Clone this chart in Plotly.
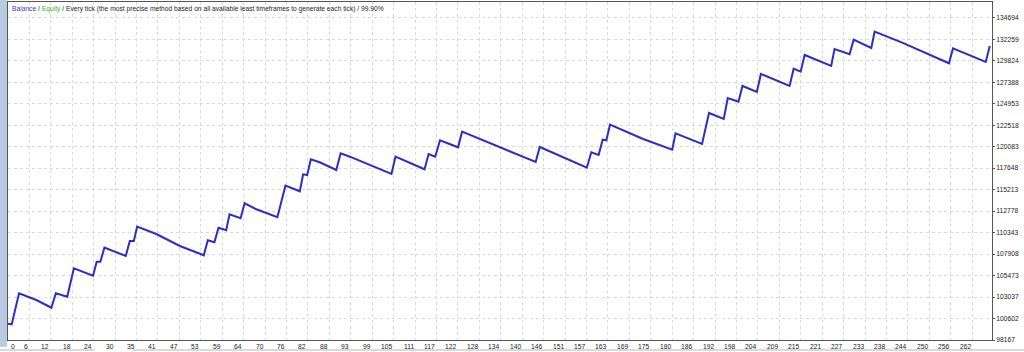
import plotly.graph_objects as go

# ---- data ----
trade_no = [0, 1.0, 3.0, 7.7, 11.8, 13.0, 16.1, 17.9, 23.1, 24.1, 25.1, 26.2, 32.0, 33.1, 34.2,
            35.1, 40.3, 46.7, 53.2, 54.3, 56.1, 57.2, 59.3, 60.2, 63.2, 64.3, 67.5, 73.2, 75.4,
            79.3, 80.2, 81.3, 82.3, 84.7, 89.2, 90.4, 92.9, 104.2, 105.3, 113.2, 114.3, 116.1,
            117.4, 122.3, 123.4, 133.6, 139.0, 143.4, 144.5, 151.7, 157.3, 158.5, 160.5, 161.6,
            162.6, 163.6, 172.6, 180.5, 181.4, 188.6, 190.5, 194.5, 195.6, 198.5, 199.6, 203.5,
            204.6, 212.4, 213.5, 215.4, 216.5, 223.7, 224.6, 228.7, 229.8, 234.6, 235.5, 243.0,
            255.7, 256.8, 265.7, 266.8]
balance = [100000, 99940, 103461, 102701, 101828, 103461, 103076, 106295, 105456, 107043, 107043,
           108630, 107689, 109390, 109390, 111011, 110183, 108823, 107769, 109469, 109242, 110897,
           110603, 112416, 111963, 113664, 112983, 112076, 115658, 115024, 116951, 116871, 118651,
           118311, 117438, 119331, 118946, 116985, 118946, 117518, 119252, 118946, 120805, 120011,
           121780, 120011, 119025, 118345, 120045, 118719, 117699, 119445, 119139, 120873, 120805,
           122574, 120952, 119740, 121598, 120386, 123900, 123220, 125600, 125181, 126960, 126280,
           128321, 126960, 128922, 128582, 130475, 129228, 131155, 130554, 132209, 131268, 133116,
           131869, 129534, 131234, 129681, 131495]

x_tick_labels = ["0", "6", "12", "18", "24", "30", "35", "41", "47", "53", "59", "64", "70", "76",
                 "82", "88", "93", "99", "105", "111", "117", "122", "128", "134", "140", "146",
                 "151", "157", "163", "169", "175", "180", "186", "192", "198", "204", "209", "215",
                 "221", "227", "233", "238", "244", "250", "256", "262"]
y_tick_labels = [98167, 100602, 103037, 105473, 107908, 110343, 112778, 115213, 117648, 120083,
                 122518, 124953, 127388, 129824, 132259, 134694]

header_balance = "Balance"
header_equity = "Equity"
header_rest = "Every tick (the most precise method based on all available least timeframes to generate each tick) / 99.90%"

# ---- figure ----
FONT = "Liberation Sans, Arial, sans-serif"
n_lab = len(x_tick_labels)
x_step = float(x_tick_labels[-1]) / (n_lab - 1)
x_tick_pos = [i * x_step for i in range(n_lab)]

fig = go.Figure()
fig.add_trace(go.Scatter(x=trade_no, y=balance, mode="lines",
                         line=dict(color="#2d2dc6", width=2), hoverinfo="skip",
                         showlegend=False))

fig.update_layout(
    width=1024, height=352,
    margin=dict(l=8, r=32, t=2, b=12),
    paper_bgcolor="white", plot_bgcolor="white",
    font=dict(family=FONT, size=6.7, color="#222222"),
    showlegend=False,
    xaxis=dict(range=[0, 267.4], tickvals=x_tick_pos, showticklabels=False,
               showgrid=True, gridcolor="#dadada", griddash="dot", gridwidth=1,
               zeroline=False, showline=True, linecolor="#555555", linewidth=1, mirror=True,
               fixedrange=True),
    yaxis=dict(range=[98167, 136480], side="right", tickvals=y_tick_labels,
               ticktext=[str(v) for v in y_tick_labels],
               showgrid=True, gridcolor="#dadada", griddash="dot", gridwidth=1,
               zeroline=False, showline=True, linecolor="#555555", linewidth=1, mirror=True,
               ticks="outside", ticklen=2, tickcolor="#555555",
               tickfont=dict(family=FONT, size=6.7, color="#222222"), fixedrange=True),
)

# x tick labels, right-aligned to their grid line like the terminal draws them
for i, (pos, lab) in enumerate(zip(x_tick_pos, x_tick_labels)):
    fig.add_annotation(x=pos, y=0, xref="x", yref="paper", text=lab, showarrow=False,
                       xanchor="left" if i == 0 else "right", yanchor="top",
                       xshift=1 if i == 0 else 0.5, yshift=-0.5,
                       font=dict(family=FONT, size=6.7, color="#222222"))

# header line
fig.add_annotation(
    x=0, y=1, xref="paper", yref="paper", xanchor="left", yanchor="top", showarrow=False,
    xshift=2, yshift=-1,
    text=(f"<span style='color:#3636d6'>{header_balance}</span> / "
          f"<span style='color:#2fb82f'>{header_equity}</span> / {header_rest}"),
    font=dict(family=FONT, size=6.7, color="#1e1e1e"))

# window chrome
fig.add_shape(type="rect", xref="paper", yref="paper", x0=-8 / 984, x1=-1 / 984,
              y0=-0.02, y1=1.01, fillcolor="#b9cbe3", line_width=0, layer="below")
fig.add_shape(type="rect", xref="paper", yref="paper", x0=1027 / 984, x1=1040 / 984,
              y0=-0.04, y1=1.01, fillcolor="#ececec", line_width=0, layer="below")
fig.add_shape(type="line", xref="paper", yref="paper", x0=-8 / 984, x1=87 / 984,
              y0=-10 / 338, y1=-10 / 338, line=dict(color="#b5b5b5", width=1))
fig.add_shape(type="line", xref="paper", yref="paper", x0=125 / 984, x1=1040 / 984,
              y0=-10 / 338, y1=-10 / 338, line=dict(color="#b5b5b5", width=1))

fig.write_html("out.html")
